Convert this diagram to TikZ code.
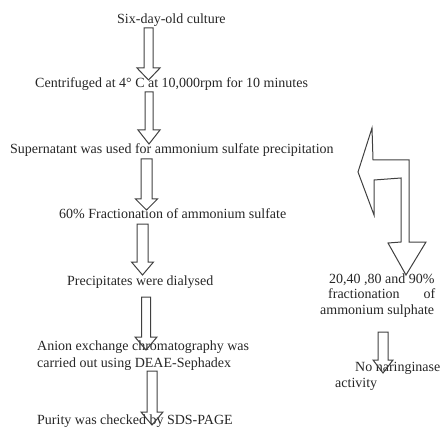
\documentclass[tikz,border=0pt]{standalone}
\usepackage{fontspec}
\setmainfont{Liberation Serif}
\begin{document}
\begin{tikzpicture}[x=1pt,y=-1pt,
  lbl/.style={inner sep=0pt, anchor=west, font=\fontsize{14}{17}\selectfont, text=black!85},
  blk/.style={draw=black!75, line width=1pt, line join=miter}]
\useasboundingbox (0,0) rectangle (443,435);
\newcommand\barrow[6]{%
  \pgfmathsetmacro\bxL{#1-#4}\pgfmathsetmacro\bxR{#1+#4}%
  \pgfmathsetmacro\bhL{#1-#5}\pgfmathsetmacro\bhR{#1+#5}%
  \pgfmathsetmacro\bhy{#3-#6}%
  \draw[blk] (\bxL,#2) -- (\bxR,#2) -- (\bxR,\bhy) -- (\bhR,\bhy)
    -- (#1,#3) -- (\bhL,\bhy) -- (\bxL,\bhy) -- cycle;}
% text nodes
\node[lbl] (t1) at (117,20) {Six-day-old culture};
\node[lbl] (t2) at (35,84) {Centrifuged at 4\textdegree{} C at 10,000rpm for 10 minutes};
\node[lbl] (t3) at (10,150) {Supernatant was used for ammonium sulfate precipitation};
\node[lbl] (t4) at (59,214) {60\% Fractionation of ammonium sulfate};
\node[lbl] (t5) at (67,282) {Precipitates were dialysed};
\node[lbl, align=left] (t6) at (37,355.5) {Anion exchange chromatography was\\carried out using DEAE-Sephadex};
\node[lbl] (t7) at (37,421) {Purity was checked by SDS-PAGE};
\node[lbl, align=left, font=\fontsize{14}{15.5}\selectfont] (r1) at (320,295.5) {\hspace*{9pt}20,40 ,80 and 90\%\\\hspace*{8pt}\makebox[107pt][s]{fractionation\hfill of}\\ammonium sulphate};
\node[lbl, align=left, font=\fontsize{14}{16}\selectfont] (r2) at (335,376) {\hspace*{20pt}No naringinase\\activity};
% block arrows
\barrow{148.5}{28}{80}{4.5}{11.5}{12}
\barrow{149}{92}{144}{4}{11}{14}
\barrow{146.5}{159}{210}{5.5}{11}{11}
\barrow{142.5}{224}{275}{5.5}{11}{13}
\barrow{146}{297}{350}{4.5}{11}{13}
\barrow{152}{371}{425}{5}{11}{13}
\barrow{383}{332}{373}{5}{10}{13}
% bent double arrow
\draw[blk] (372,128) -- (358,172) -- (374,215) -- (374,180) -- (401,178)
  -- (401,242) -- (388,243) -- (406,275) -- (426,242) -- (409,242)
  -- (409,160) -- (373,160) -- cycle;
\end{tikzpicture}
\end{document}
